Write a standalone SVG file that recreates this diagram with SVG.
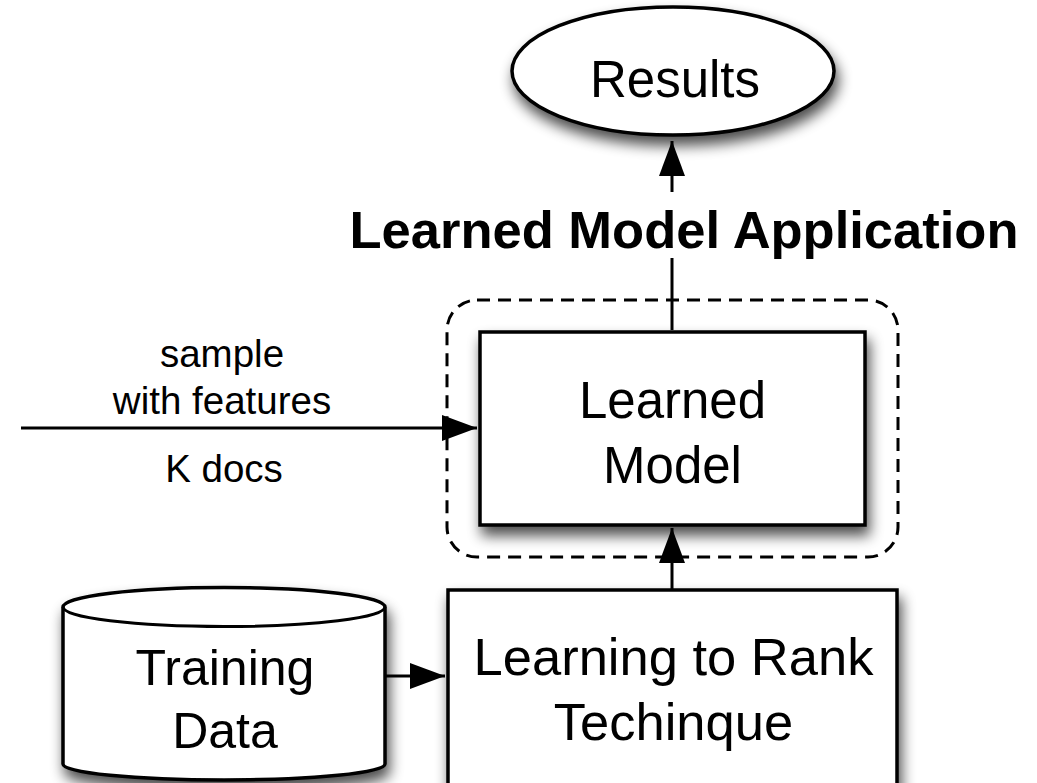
<svg xmlns="http://www.w3.org/2000/svg" width="1037" height="783" viewBox="0 0 1037 783">
<style>
.shape{fill:#fff;stroke:#000;stroke-width:3.5}
.lbl{font-family:"Liberation Sans",Arial,sans-serif;font-size:51px;fill:#000;text-anchor:middle}
.big{font-size:52.5px}
.small{font-family:"Liberation Sans",Arial,sans-serif;font-size:38.5px;fill:#000;text-anchor:middle}
.title{font-family:"Liberation Sans",Arial,sans-serif;font-size:52.5px;font-weight:bold;fill:#000;text-anchor:middle}
.conn{stroke:#000;stroke-width:3;fill:none}
</style>
<defs>
<filter id="sh" x="-20%" y="-20%" width="140%" height="160%">
<feGaussianBlur in="SourceAlpha" stdDeviation="7"/>
<feOffset dx="3" dy="9" result="b"/>
<feComponentTransfer><feFuncA type="linear" slope="0.7"/></feComponentTransfer>
<feMerge><feMergeNode/><feMergeNode in="SourceGraphic"/></feMerge>
</filter>
<marker id="ah" viewBox="0 0 35 26" refX="35" refY="13" markerWidth="35" markerHeight="26" markerUnits="userSpaceOnUse" orient="auto">
<path d="M0,0 L35,13 L0,26 Z" fill="#000"/>
</marker>
</defs>
<rect width="1037" height="783" fill="#fff"/>

<g id="group-dashed">
<rect x="447" y="300" width="451" height="257" rx="30" ry="30" fill="none" stroke="#000" stroke-width="3" stroke-dasharray="13 8"/>
</g>

<g id="results">
<ellipse class="shape" cx="673" cy="71" rx="161" ry="64" filter="url(#sh)"/>
<text class="lbl" x="675" y="97">Results</text>
</g>

<g id="learned-model">
<rect class="shape" x="480" y="332" width="385" height="193" filter="url(#sh)"/>
<text class="lbl" x="672.5" y="418">Learned</text>
<text class="lbl" x="672.5" y="483">Model</text>
</g>

<g id="ltr">
<rect class="shape" x="448" y="590" width="449" height="210" filter="url(#sh)"/>
<text class="lbl big" x="673.5" y="675">Learning to Rank</text>
<text class="lbl big" x="673.5" y="740">Techinque</text>
</g>

<g id="training-data">
<path class="shape" d="M63,607 L63,764 A161,16 0 0 0 385,764 L385,607 A161,19.5 0 0 0 63,607 Z" filter="url(#sh)"/>
<path class="conn" d="M63,607 A161,19.5 0 0 0 385,607"/>
<text class="lbl" x="225" y="685" style="font-size:50px">Training</text>
<text class="lbl" x="225" y="748" style="font-size:50px">Data</text>
</g>

<g id="title">
<text class="title" x="684" y="248">Learned Model Application</text>
</g>

<g id="labels">
<text class="small" x="222" y="367">sample</text>
<text class="small" x="222" y="414">with features</text>
<text class="small" x="224" y="482">K docs</text>
</g>

<g id="connectors">
<line class="conn" x1="672" y1="330" x2="672" y2="258"/>
<line class="conn" x1="672" y1="192" x2="672" y2="141" marker-end="url(#ah)"/>
<line class="conn" x1="672" y1="589" x2="672" y2="528" marker-end="url(#ah)"/>
<line class="conn" x1="21" y1="428" x2="477" y2="428" marker-end="url(#ah)"/>
<line class="conn" x1="386" y1="676" x2="445" y2="676" marker-end="url(#ah)"/>
</g>
</svg>
